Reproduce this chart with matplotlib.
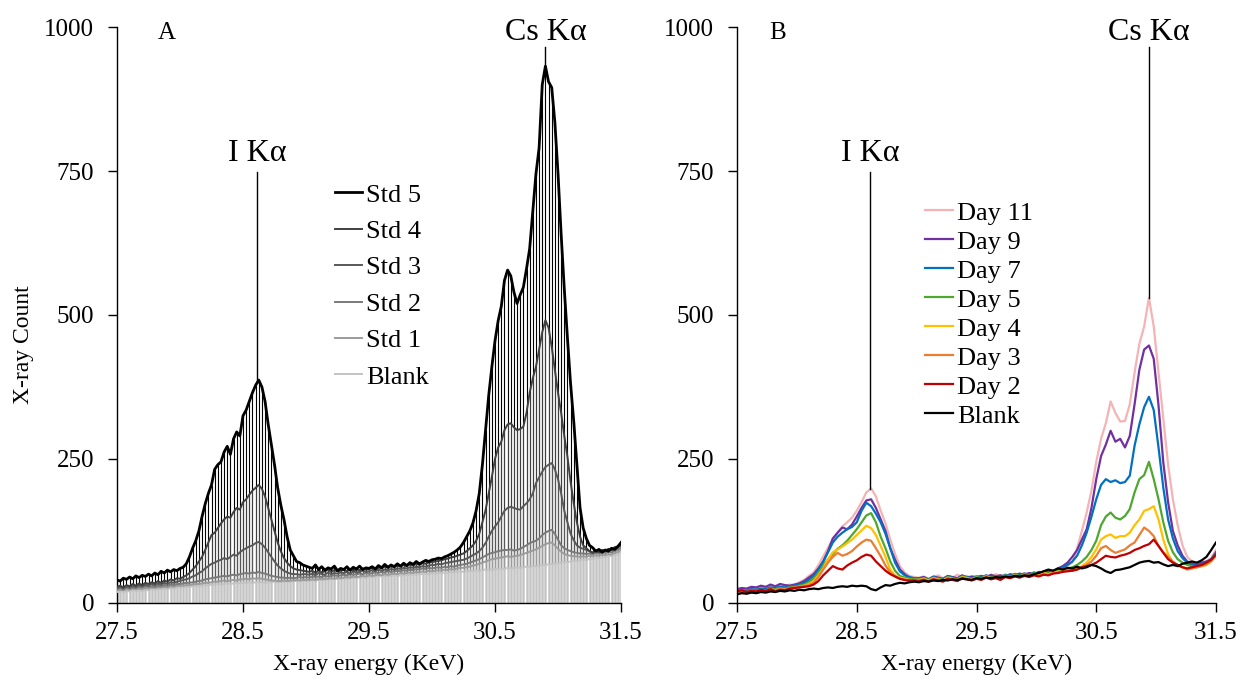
import matplotlib.pyplot as plt
import numpy as np

plt.rcParams['font.family'] = ['Liberation Serif', 'DejaVu Serif']

# ---- panel A: standards, 0.025 keV channels ----
energy_a = np.linspace(27.5, 31.5, 161)

std5 = [40, 38, 43, 41, 45, 42, 47, 44, 48, 46, 50, 47, 52, 49, 55, 52, 57, 54, 58, 56, 60,
        62, 68, 80, 95, 108, 125, 150, 172, 190, 205, 232, 240, 245, 262, 272, 258, 285, 297, 290, 325,
        335, 350, 365, 378, 387, 375, 350, 310, 275, 240, 200, 170, 145, 115, 92, 82, 72, 70, 66, 64,
        62, 60, 66, 58, 63, 57, 61, 59, 64, 56, 60, 58, 63, 57, 62, 59, 64, 58, 61, 60,
        63, 59, 65, 61, 67, 62, 66, 63, 68, 64, 69, 65, 70, 67, 72, 68, 71, 74, 72, 75,
        76, 78, 77, 80, 82, 85, 88, 92, 97, 105, 115, 125, 139, 160, 190, 240, 300, 360, 410, 455,
        490, 515, 560, 578, 568, 540, 520, 535, 548, 580, 615, 680, 745, 790, 900, 932, 905, 895, 835, 746,
        640, 545, 460, 380, 315, 240, 165, 130, 112, 100, 96, 90, 93, 88, 92, 90, 95, 93, 98, 105]
std4 = [28, 30, 27, 31, 29, 33, 30, 34, 31, 35, 33, 36, 34, 38, 35, 39, 37, 41, 39, 43, 42,
        45, 48, 52, 58, 64, 72, 80, 92, 105, 118, 122, 130, 138, 145, 150, 148, 158, 165, 162, 175,
        180, 188, 195, 200, 205, 198, 185, 165, 145, 125, 105, 90, 78, 70, 64, 60, 58, 57, 56, 55,
        54, 56, 52, 57, 53, 55, 58, 54, 57, 55, 56, 58, 55, 59, 56, 58, 57, 60, 58, 59,
        61, 58, 62, 60, 63, 61, 64, 62, 65, 63, 66, 64, 67, 65, 68, 66, 69, 68, 70, 71,
        72, 73, 74, 76, 77, 79, 80, 82, 84, 86, 90, 95, 100, 108, 120, 140, 161, 190, 219, 250,
        270, 280, 300, 310, 312, 305, 300, 302, 306, 330, 365, 390, 410, 440, 470, 491, 478, 445, 405, 365,
        330, 290, 254, 210, 173, 140, 115, 100, 95, 90, 87, 90, 88, 92, 90, 94, 92, 97, 98, 100]
std3 = [26, 28, 25, 29, 27, 30, 28, 31, 29, 32, 30, 33, 31, 34, 32, 35, 33, 36, 35, 37, 38,
        40, 41, 43, 46, 48, 52, 55, 60, 64, 68, 70, 73, 75, 78, 76, 80, 84, 82, 88, 92,
        95, 98, 100, 104, 106, 102, 96, 88, 80, 72, 65, 60, 56, 53, 51, 50, 50, 49, 50, 50,
        49, 51, 48, 52, 50, 49, 53, 50, 52, 51, 53, 52, 54, 51, 55, 53, 54, 56, 54, 55,
        57, 55, 58, 56, 58, 57, 59, 58, 60, 59, 61, 60, 62, 61, 63, 62, 64, 63, 65, 66,
        66, 68, 67, 69, 70, 71, 72, 73, 74, 75, 77, 80, 83, 86, 90, 96, 104, 115, 125, 133,
        140, 150, 160, 165, 167, 165, 163, 162, 168, 173, 180, 190, 208, 218, 228, 236, 240, 243, 232, 215,
        190, 160, 140, 120, 109, 100, 96, 94, 92, 90, 88, 91, 89, 92, 90, 93, 92, 95, 97, 100]
std2 = [24, 26, 24, 27, 25, 27, 26, 28, 27, 29, 28, 29, 28, 30, 29, 31, 30, 32, 31, 33, 33,
        34, 35, 35, 36, 37, 38, 39, 41, 42, 43, 44, 45, 46, 47, 46, 48, 49, 48, 50, 51,
        52, 51, 53, 52, 54, 52, 51, 49, 47, 46, 45, 44, 44, 43, 44, 43, 44, 45, 44, 45,
        44, 46, 45, 46, 45, 47, 46, 47, 48, 47, 48, 49, 48, 50, 49, 50, 51, 50, 52, 51,
        52, 53, 52, 54, 53, 55, 54, 55, 56, 55, 57, 56, 58, 57, 59, 58, 60, 59, 61, 60,
        61, 62, 61, 63, 62, 64, 63, 65, 66, 67, 68, 70, 72, 74, 76, 79, 82, 85, 87, 88,
        90, 91, 92, 92, 93, 91, 92, 94, 97, 100, 104, 106, 108, 112, 118, 122, 125, 127, 120, 110,
        100, 95, 92, 90, 88, 87, 86, 86, 85, 86, 85, 87, 86, 88, 87, 89, 88, 91, 93, 96]
std1 = [22, 23, 22, 24, 23, 25, 24, 25, 24, 26, 25, 27, 26, 27, 27, 28, 27, 29, 28, 30, 30,
        30, 31, 31, 32, 33, 33, 34, 35, 35, 36, 37, 37, 38, 39, 38, 39, 40, 39, 41, 41,
        42, 41, 43, 42, 43, 42, 41, 40, 39, 39, 38, 38, 39, 38, 39, 39, 40, 39, 40, 40,
        40, 41, 40, 42, 41, 42, 42, 43, 42, 44, 43, 44, 45, 44, 46, 45, 46, 47, 46, 48,
        47, 48, 49, 48, 50, 49, 50, 51, 50, 52, 51, 52, 53, 52, 54, 53, 55, 54, 56, 55,
        56, 57, 56, 58, 57, 59, 58, 60, 61, 61, 62, 63, 65, 66, 68, 70, 72, 74, 76, 77,
        78, 79, 80, 81, 80, 81, 82, 83, 85, 87, 89, 91, 93, 96, 99, 102, 104, 105, 100, 94,
        89, 85, 83, 82, 81, 81, 80, 81, 80, 82, 81, 83, 82, 84, 83, 85, 84, 87, 89, 92]
blank_a = [19, 20, 19, 21, 20, 22, 21, 22, 21, 23, 22, 24, 23, 24, 24, 25, 24, 26, 25, 27, 27,
           27, 28, 28, 29, 29, 30, 30, 31, 31, 32, 32, 33, 32, 33, 34, 33, 34, 35, 34, 35,
           35, 36, 35, 36, 36, 36, 35, 36, 36, 37, 36, 37, 37, 38, 37, 38, 38, 39, 38, 39,
           39, 40, 39, 40, 41, 40, 41, 42, 41, 42, 42, 43, 42, 44, 43, 44, 44, 45, 44, 46,
           45, 46, 46, 47, 46, 47, 47, 48, 47, 48, 48, 49, 48, 50, 49, 50, 50, 51, 50, 52,
           51, 52, 52, 53, 52, 54, 53, 54, 55, 54, 55, 56, 55, 57, 56, 57, 58, 57, 58, 59,
           59, 60, 59, 61, 60, 61, 62, 61, 62, 63, 63, 64, 64, 65, 66, 66, 67, 68, 68, 69,
           70, 71, 71, 72, 73, 73, 74, 75, 75, 76, 77, 78, 78, 79, 80, 81, 82, 83, 85, 87]

labels_a = ['Std 5', 'Std 4', 'Std 3', 'Std 2', 'Std 1', 'Blank']
colors_a = ['#000000', '#3f3f3f', '#585858', '#7a7a7a', '#9c9c9c', '#c4c4c4']

# ---- panel B: days, 0.04 keV channels ----
energy_b = np.linspace(27.5, 31.5, 101)

day11 = [22, 24, 23, 26, 25, 27, 26, 29, 28, 30, 29, 32, 31,
         36, 40, 47, 53, 66, 81, 96, 110, 122, 133, 140, 148, 160, 175, 192, 199, 185, 160, 138, 110, 85, 64, 53, 47, 45,
         44, 46, 42, 45, 48, 43, 46, 44, 49, 45, 47, 43, 46, 44, 48, 45, 50, 47, 49, 46, 51, 48, 52, 49, 53, 50, 55, 52, 56, 54, 60, 65,
         70, 95, 125, 157, 195, 245, 285, 312, 350, 330, 315, 316, 345, 400, 450, 480, 530, 480, 400, 320, 240, 180, 135, 100, 80, 72, 68, 70, 72, 78, 92]
day9 = [24, 26, 25, 28, 27, 30, 28, 32, 29, 33, 31, 30, 32,
        34, 38, 44, 50, 60, 72, 90, 112, 122, 131, 128, 136, 150, 165, 178, 180, 165, 145, 125, 95, 75, 58, 50, 44, 42,
        43, 45, 41, 46, 44, 42, 47, 45, 43, 48, 44, 46, 45, 47, 44, 49, 46, 48, 45, 50, 48, 51, 49, 52, 50, 54, 52, 56, 55, 60, 64, 70,
        80, 92, 110, 128, 165, 215, 255, 275, 299, 280, 285, 270, 290, 345, 405, 440, 447, 424, 343, 244, 175, 125, 100, 82, 72, 68, 66, 70, 72, 76, 88]
day7 = [20, 22, 21, 24, 23, 25, 24, 27, 26, 28, 27, 29, 30,
        32, 35, 40, 47, 58, 72, 88, 105, 115, 122, 128, 132, 140, 160, 174, 168, 155, 140, 120, 95, 70, 55, 48, 45, 43,
        42, 44, 40, 45, 43, 41, 46, 44, 42, 47, 45, 43, 46, 44, 48, 45, 47, 44, 49, 47, 50, 48, 51, 49, 53, 50, 54, 52, 56, 58, 62, 66,
        72, 82, 100, 122, 150, 180, 205, 215, 210, 213, 208, 210, 221, 273, 310, 340, 358, 335, 270, 200, 145, 112, 90, 78, 70, 66, 64, 68, 70, 75, 86]
day5 = [18, 20, 19, 22, 21, 23, 22, 25, 24, 26, 25, 27, 28,
        30, 32, 36, 42, 52, 65, 76, 85, 94, 100, 108, 118, 128, 140, 152, 156, 140, 115, 95, 72, 56, 47, 44, 42, 41,
        41, 43, 40, 44, 42, 40, 45, 43, 41, 46, 44, 42, 45, 43, 47, 44, 46, 43, 48, 46, 49, 47, 50, 48, 52, 49, 53, 51, 54, 56, 58, 60,
        62, 66, 72, 80, 92, 108, 135, 150, 157, 148, 145, 151, 163, 192, 215, 222, 245, 215, 180, 140, 108, 88, 76, 70, 66, 64, 62, 66, 68, 74, 84]
day4 = [16, 18, 17, 20, 19, 21, 20, 23, 22, 24, 23, 25, 26,
        28, 30, 33, 38, 48, 60, 76, 88, 93, 98, 104, 110, 118, 126, 134, 130, 118, 99, 80, 58, 48, 44, 42, 40, 40,
        40, 42, 39, 43, 41, 39, 44, 42, 40, 45, 43, 41, 44, 42, 46, 43, 45, 42, 47, 45, 48, 46, 49, 47, 50, 48, 52, 50, 53, 54, 56, 58,
        58, 60, 64, 70, 80, 93, 110, 116, 119, 113, 116, 116, 122, 135, 145, 160, 163, 168, 145, 110, 85, 70, 64, 62, 60, 60, 62, 64, 66, 72, 82]
day3 = [18, 20, 18, 21, 20, 22, 21, 24, 22, 25, 23, 26, 27,
        28, 29, 31, 35, 45, 58, 70, 80, 87, 82, 85, 90, 98, 105, 110, 108, 95, 81, 65, 53, 46, 42, 40, 39, 40,
        39, 41, 38, 42, 40, 38, 43, 41, 39, 44, 42, 40, 43, 41, 45, 42, 44, 41, 46, 44, 47, 45, 48, 46, 49, 47, 50, 49, 52, 53, 55, 57,
        56, 58, 62, 66, 72, 82, 95, 99, 92, 87, 90, 93, 100, 105, 118, 131, 125, 116, 99, 88, 80, 72, 66, 62, 58, 60, 62, 64, 67, 73, 82]
day2 = [20, 22, 19, 21, 20, 23, 21, 24, 20, 23, 22, 25, 26,
        27, 28, 29, 32, 38, 48, 56, 64, 60, 58, 65, 70, 74, 80, 84, 82, 72, 64, 56, 50, 46, 42, 40, 39, 39,
        38, 40, 37, 41, 39, 37, 42, 40, 38, 43, 41, 39, 42, 40, 44, 41, 43, 40, 45, 43, 46, 44, 47, 45, 48, 46, 49, 48, 51, 52, 54, 55,
        56, 58, 62, 64, 66, 70, 76, 82, 80, 79, 82, 84, 87, 92, 95, 99, 102, 110, 99, 87, 76, 70, 66, 62, 60, 62, 64, 66, 70, 75, 84]
blank_b = [15, 17, 16, 18, 17, 19, 18, 20, 19, 21, 20, 22, 21,
           23, 22, 24, 25, 24, 26, 27, 26, 28, 29, 28, 30, 29, 30, 29, 24, 22, 27, 31, 30, 33, 35, 34, 36, 37,
           36, 38, 37, 39, 38, 40, 39, 41, 40, 42, 41, 40, 43, 42, 44, 43, 45, 44, 46, 45, 47, 46, 48, 47, 50, 52, 55, 58, 56, 60, 58, 61,
           60, 63, 60, 62, 66, 64, 60, 55, 52, 57, 58, 60, 62, 66, 70, 72, 73, 70, 71, 67, 64, 66, 64, 68, 70, 72, 70, 74, 80, 92, 105]

labels_b = ['Day 11', 'Day 9', 'Day 7', 'Day 5', 'Day 4', 'Day 3', 'Day 2', 'Blank']
colors_b = ['#f4b3b5', '#7030a0', '#0070c0', '#4ea72e', '#ffc000', '#ed7d31', '#c00000', '#000000']

xticks = [27.5, 28.5, 29.5, 30.5, 31.5]
yticks = [0, 250, 500, 750, 1000]


def style_axes(ax):
    ax.set_xlim(27.5, 31.5)
    ax.set_ylim(0, 1000)
    ax.set_xticks(xticks)
    ax.set_xticklabels(['27.5', '28.5', '29.5', '30.5', '31.5'])
    ax.set_yticks(yticks)
    for s in ['top', 'right']:
        ax.spines[s].set_visible(False)
    for s in ['left', 'bottom']:
        ax.spines[s].set_linewidth(1.0)
    ax.tick_params(direction='out', length=6.5, width=1.0, labelsize=18)
    ax.tick_params(axis='y', pad=10)
    ax.tick_params(axis='x', pad=7)
    ax.set_xlabel('X-ray energy (KeV)', fontsize=17, labelpad=7)


def mark_peak(ax, x, energy, top, name, y_top, y_text):
    y0 = np.interp(x, energy, top)
    ax.plot([x, x], [y0, y_top], color='black', lw=1.0, zorder=6)
    ax.text(x, y_text, name, ha='center', va='baseline', fontsize=23)


fig = plt.figure(figsize=(12.5, 6.91), dpi=100)
axA = fig.add_axes([0.0936, 0.1274, 0.4032, 0.8335])
axB = fig.add_axes([0.5896, 0.1274, 0.3832, 0.8335])

# panel A: drop lines first (darkest at back), then the traces
series_a = [std5, std4, std3, std2, std1, blank_a]
for vals, c in zip(series_a, colors_a):
    assert len(vals) == len(energy_a)
    axA.vlines(energy_a, 0, vals, color=c, lw=0.8, zorder=2)
lines_a = []
for vals, c, lab in reversed(list(zip(series_a, colors_a, labels_a))):
    ln, = axA.plot(energy_a, vals, color=c, lw=2.0 if lab == 'Std 5' else 1.4,
                   label=lab, zorder=3)
    lines_a.insert(0, ln)
style_axes(axA)
axA.legend(lines_a, labels_a, loc='upper left', bbox_to_anchor=(0.268, 0.735),
           bbox_transform=fig.transFigure, frameon=False, borderpad=0,
           borderaxespad=0, fontsize=19, handlelength=1.02, handletextpad=0.15,
           labelspacing=0.49)
mark_peak(axA, 28.61, energy_a, std5, 'I K\u03b1', 748, 768)
mark_peak(axA, 30.9, energy_a, std5, 'Cs K\u03b1', 965, 978)
axA.text(27.5 + 50 / 126, 990, 'A', ha='center', va='center', fontsize=18)

# panel B
series_b = [day11, day9, day7, day5, day4, day3, day2, blank_b]
for vals, c, lab in zip(series_b, colors_b, labels_b):
    assert len(vals) == len(energy_b)
    axB.plot(energy_b, vals, color=c, lw=1.6, label=lab)
style_axes(axB)
axB.legend(loc='upper left', bbox_to_anchor=(0.74, 0.709),
           bbox_transform=fig.transFigure, frameon=False, borderpad=0,
           borderaxespad=0, fontsize=19, handlelength=1.06, handletextpad=0.15,
           labelspacing=0.21)
mark_peak(axB, 28.61, energy_b, day11, 'I K\u03b1', 748, 768)
mark_peak(axB, 30.94, energy_b, day11, 'Cs K\u03b1', 965, 978)
axB.text(27.5 + 41 / 119.75, 990, 'B', ha='center', va='center', fontsize=18)

fig.text(23 / 1250, 1 - 345 / 691, 'X-ray Count', rotation=90,
         ha='center', va='center', fontsize=17)

plt.savefig('out.png', dpi=100)
plt.close()
